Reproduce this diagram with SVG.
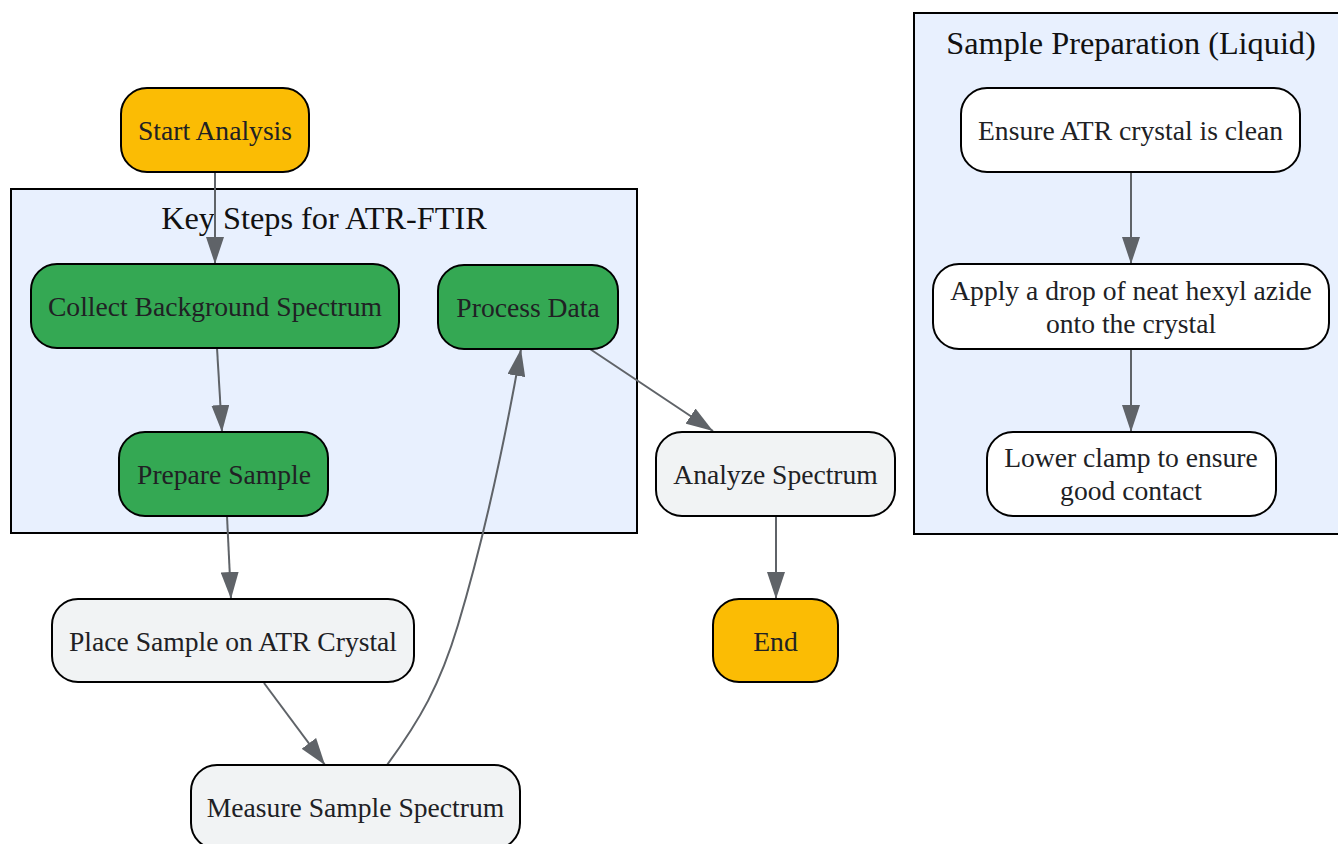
<svg xmlns="http://www.w3.org/2000/svg" width="1338" height="844" viewBox="0 0 1338 844">
<style>
.cluster{fill:#e8f0fe;stroke:#000;stroke-width:2}
.ctitle{font-family:"Liberation Serif",serif;font-size:32.3px;fill:#111;text-anchor:middle}
.node rect{stroke:#000;stroke-width:2}
.node text{font-family:"Liberation Serif",serif;font-size:27.6px;fill:#202124;text-anchor:middle}
.start rect{fill:#fbbc04}
.green rect{fill:#34a853}
.grey rect{fill:#f1f3f4}
.white rect{fill:#ffffff}
.edge{fill:none;stroke:#5f6368;stroke-width:2;marker-end:url(#arr)}
</style>
<defs>
<marker id="arr" viewBox="0 0 27 18" refX="27" refY="9" markerWidth="27" markerHeight="18" markerUnits="userSpaceOnUse" orient="auto">
<path d="M0,0 L27,9 L0,18 z" fill="#5f6368"/>
</marker>
</defs>
<rect width="1338" height="844" fill="#ffffff"/>
<g id="cluster-keysteps">
<rect class="cluster" x="11" y="189" width="626" height="344"/>
<text class="ctitle" x="324" y="229">Key Steps for ATR-FTIR</text>
</g>
<g id="cluster-prep">
<rect class="cluster" x="914" y="13" width="436" height="521"/>
<text class="ctitle" x="1131" y="54">Sample Preparation (Liquid)</text>
</g>
<g id="connectors">
<path class="edge" d="M215,172 L215,264"/>
<path class="edge" d="M217,348 L222,432"/>
<path class="edge" d="M227,516 L231,599"/>
<path class="edge" d="M264,683 L325,765"/>
<path class="edge" d="M387,765 C420,720 440,685 458,625 C482,545 505,440 521,349"/>
<path class="edge" d="M590,349 L713,431"/>
<path class="edge" d="M776,516 L776,599"/>
<path class="edge" d="M1131,172 L1131,264"/>
<path class="edge" d="M1131,349 L1131,432"/>
</g>
<g id="start" class="node start">
<rect x="121" y="88" width="188" height="84" rx="26"/>
<text x="215" y="140">Start Analysis</text>
</g>
<g id="collect" class="node green">
<rect x="31" y="264" width="368" height="84" rx="26"/>
<text x="215" y="316">Collect Background Spectrum</text>
</g>
<g id="process" class="node green">
<rect x="438" y="265" width="180" height="84" rx="26"/>
<text x="528" y="317">Process Data</text>
</g>
<g id="prepare" class="node green">
<rect x="119" y="432" width="209" height="84" rx="26"/>
<text x="224" y="484">Prepare Sample</text>
</g>
<g id="place" class="node grey">
<rect x="52" y="599" width="362" height="83" rx="26"/>
<text x="233" y="651">Place Sample on ATR Crystal</text>
</g>
<g id="measure" class="node grey">
<rect x="191" y="765" width="329" height="84" rx="26"/>
<text x="355.5" y="817">Measure Sample Spectrum</text>
</g>
<g id="analyze" class="node grey">
<rect x="656" y="432" width="239" height="84" rx="26"/>
<text x="775.5" y="484">Analyze Spectrum</text>
</g>
<g id="end" class="node start">
<rect x="713" y="599" width="125" height="83" rx="26"/>
<text x="775.5" y="651">End</text>
</g>
<g id="ensure" class="node white">
<rect x="961" y="88" width="339" height="84" rx="26"/>
<text x="1130.5" y="140">Ensure ATR crystal is clean</text>
</g>
<g id="apply" class="node white">
<rect x="933" y="264" width="396" height="85" rx="26"/>
<text x="1131" y="300">Apply a drop of neat hexyl azide</text>
<text x="1131" y="333">onto the crystal</text>
</g>
<g id="lower" class="node white">
<rect x="987" y="432" width="289" height="84" rx="26"/>
<text x="1131" y="467">Lower clamp to ensure</text>
<text x="1131" y="500">good contact</text>
</g>
</svg>
